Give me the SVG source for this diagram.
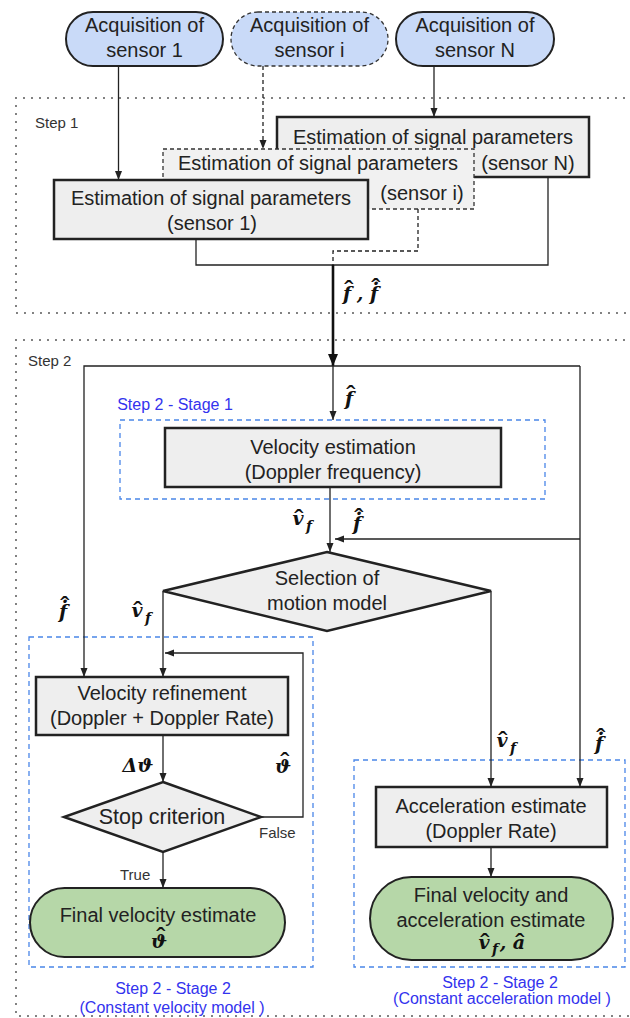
<svg xmlns="http://www.w3.org/2000/svg" width="630" height="1018" viewBox="0 0 630 1018">
<defs>
<marker id="arr" markerUnits="userSpaceOnUse" markerWidth="10" markerHeight="10" refX="9" refY="5" orient="auto"><path d="M0,1.5 L9,5 L0,8.5 z" fill="#222"/></marker>
<marker id="arrB" markerUnits="userSpaceOnUse" markerWidth="13" markerHeight="13" refX="12" refY="6.5" orient="auto"><path d="M0,1.5 L12,6.5 L0,11.5 z" fill="#111"/></marker>
</defs>
<style>
.t{font-family:"Liberation Sans",Arial,sans-serif;font-size:20px;fill:#222;text-anchor:middle}
.m{font-family:"DejaVu Serif",serif;font-weight:bold;font-style:italic;font-size:19px;fill:#111;text-anchor:middle}
.s{font-size:14px}
.h{font-family:"Liberation Sans",Arial,sans-serif;font-size:28px;font-weight:normal;font-style:normal}
.blue{font-family:"Liberation Sans",Arial,sans-serif;font-size:16px;fill:#3333ee;text-anchor:middle}
.small{font-family:"Liberation Sans",Arial,sans-serif;font-size:15px;fill:#333}
.pill{fill:#c9daf8;stroke:#222;stroke-width:2}
.pilld{fill:#c9daf8;stroke:#333;stroke-width:1.3;stroke-dasharray:4 3}
.box{fill:#eeeeee;stroke:#222;stroke-width:2.5}
.boxd{fill:#f1f1f1;stroke:#333;stroke-width:1.3;stroke-dasharray:4 3}
.green{fill:#b6d7a8;stroke:#222;stroke-width:2}
.dot{fill:none;stroke:#666;stroke-width:2.2;stroke-dasharray:0 8;stroke-linecap:round}
.bd{fill:none;stroke:#4a86e8;stroke-width:1.3;stroke-dasharray:5 4}
.c{fill:none;stroke:#222;stroke-width:1.3}
.cd{fill:none;stroke:#222;stroke-width:1.3;stroke-dasharray:4 3}
</style>

<g id="step1-frame">
<path class="dot" d="M640 98 H16 V313 H640"/>
<text class="small" x="35" y="128">Step 1</text>
</g>
<g id="step2-frame">
<path class="dot" d="M640 340 H16 V1016 H640"/>
<text class="small" x="28" y="366">Step 2</text>
</g>

<g id="stage1-frame">
<rect class="bd" x="120" y="420" width="425" height="79"/>
<text class="blue" x="175" y="410">Step 2 - Stage 1</text>
</g>
<g id="stage2-cv-frame">
<rect class="bd" x="29" y="637" width="284" height="330"/>
<text class="blue" x="173" y="994">Step 2 - Stage 2</text>
<text class="blue" x="172" y="1013">(Constant velocity model )</text>
</g>
<g id="stage2-ca-frame">
<rect class="bd" x="354" y="760" width="271" height="207"/>
<text class="blue" x="500" y="988">Step 2 - Stage 2</text>
<text class="blue" x="502" y="1004">(Constant acceleration model )</text>
</g>

<g id="acq1">
<rect class="pill" x="66" y="12" width="157" height="54" rx="27"/>
<text class="t" x="144.5" y="32">Acquisition of</text>
<text class="t" x="144.5" y="57">sensor 1</text>
</g>
<g id="acqi">
<rect class="pilld" x="231" y="12" width="157" height="54" rx="27"/>
<text class="t" x="309.5" y="32">Acquisition of</text>
<text class="t" x="309.5" y="57">sensor i</text>
</g>
<g id="acqN">
<rect class="pill" x="396" y="12" width="158" height="54" rx="27"/>
<text class="t" x="475" y="32">Acquisition of</text>
<text class="t" x="475" y="57">sensor N</text>
</g>

<g id="estN">
<rect class="box" x="277" y="117" width="312" height="60"/>
<text class="t" x="433" y="144">Estimation of signal parameters</text>
<text class="t" x="528" y="170">(sensor N)</text>
</g>
<g id="esti">
<rect class="boxd" x="163" y="149" width="311" height="60"/>
<text class="t" x="318" y="170">Estimation of signal parameters</text>
<text class="t" x="422" y="200">(sensor i)</text>
</g>
<g id="est1">
<rect class="box" x="54" y="180" width="314" height="59"/>
<text class="t" x="211" y="205">Estimation of signal parameters</text>
<text class="t" x="212" y="230">(sensor 1)</text>
</g>

<g id="velest">
<rect class="box" x="165" y="428" width="336" height="59"/>
<text class="t" x="333" y="454">Velocity estimation</text>
<text class="t" x="333" y="479">(Doppler frequency)</text>
</g>
<g id="selmodel">
<polygon class="box" points="327,552 491,591 327,631 163,591"/>
<text class="t" x="327" y="585">Selection of</text>
<text class="t" x="327" y="610">motion model</text>
</g>
<g id="velref">
<rect class="box" x="36" y="677" width="252" height="58"/>
<text class="t" x="162" y="700">Velocity refinement</text>
<text class="t" x="162" y="725">(Doppler + Doppler Rate)</text>
</g>
<g id="stop">
<polygon class="box" points="163,782 261,817 163,852 64,817"/>
<text class="t" x="162" y="824" style="font-size:21.5px">Stop criterion</text>
</g>
<g id="accest">
<rect class="box" x="376" y="787" width="231" height="60"/>
<text class="t" x="491" y="813">Acceleration estimate</text>
<text class="t" x="491" y="838">(Doppler Rate)</text>
</g>
<g id="finalvel">
<rect class="green" x="30" y="888" width="255" height="69" rx="34.5"/>
<text class="t" x="158" y="922">Final velocity estimate</text>
<text class="m"><tspan x="159" y="948">ϑ</tspan><tspan class="h" x="161" y="947">ˆ</tspan></text>
</g>
<g id="finalacc">
<rect class="green" x="370" y="877" width="243" height="83" rx="41.5"/>
<text class="t" x="491" y="902">Final velocity and</text>
<text class="t" x="491" y="927">acceleration estimate</text>
<text class="m"><tspan x="484" y="949">v</tspan><tspan class="s" x="495" y="954">f</tspan><tspan x="503" y="949">,</tspan><tspan x="519" y="949">a</tspan><tspan class="h" x="485" y="953">ˆ</tspan><tspan class="h" x="520" y="953">ˆ</tspan></text>
</g>

<g id="connectors">
<path class="c" d="M118.5 66 V180" marker-end="url(#arr)"/>
<path class="cd" d="M263 66 V149" marker-end="url(#arr)"/>
<path class="c" d="M434 66 V117" marker-end="url(#arr)"/>
<path class="c" d="M196 239 V265 H548 V177"/>
<path class="cd" d="M418 209 V251 H333 V265"/>
<path fill="none" stroke="#111" stroke-width="2.6" d="M333 265 V366" marker-end="url(#arrB)"/>
<path class="c" d="M333 366 V420" marker-end="url(#arr)"/>
<path class="c" d="M580 366 H84 V677" marker-end="url(#arr)"/>
<path class="c" d="M580 366 V787" marker-end="url(#arr)"/>
<path class="c" d="M580 539 H335" marker-end="url(#arr)"/>
<path class="c" d="M330 487 V552" marker-end="url(#arr)"/>
<path class="c" d="M163 591 V677" marker-end="url(#arr)"/>
<path class="c" d="M491 591 V787" marker-end="url(#arr)"/>
<path class="c" d="M163 735 V782" marker-end="url(#arr)"/>
<path class="c" d="M261 817 H303 V653 H165" marker-end="url(#arr)"/>
<path class="c" d="M163 852 V888" marker-end="url(#arr)"/>
<path class="c" d="M491 847 V877" marker-end="url(#arr)"/>
</g>

<g id="labels">
<text class="m"><tspan x="347" y="300">f</tspan><tspan x="360" y="300">,</tspan><tspan x="374" y="300">f</tspan><tspan class="h" x="349" y="300">ˆ</tspan><tspan class="h" x="376" y="297.5">ˆ</tspan><tspan x="376" y="284.5">.</tspan></text>

<text class="m"><tspan x="349" y="405">f</tspan><tspan class="h" x="351" y="405">ˆ</tspan></text>

<text class="m"><tspan x="298" y="525">v</tspan><tspan class="s" x="309" y="531">f</tspan><tspan class="h" x="299" y="529">ˆ</tspan></text>

<text class="m"><tspan x="357" y="530">f</tspan><tspan class="h" x="359" y="527.5">ˆ</tspan><tspan x="359" y="514.5">.</tspan></text>

<text class="m"><tspan x="63" y="618">f</tspan><tspan class="h" x="65" y="615.5">ˆ</tspan><tspan x="65" y="602.5">.</tspan></text>

<text class="m"><tspan x="137" y="617">v</tspan><tspan class="s" x="148" y="623">f</tspan><tspan class="h" x="138" y="621">ˆ</tspan></text>

<text class="m" x="138" y="772">Δϑ</text>

<text class="m"><tspan x="283" y="773">ϑ</tspan><tspan class="h" x="285" y="772">ˆ</tspan></text>

<text class="m"><tspan x="502" y="747">v</tspan><tspan class="s" x="513" y="753">f</tspan><tspan class="h" x="503" y="751">ˆ</tspan></text>

<text class="m"><tspan x="599" y="750">f</tspan><tspan class="h" x="601" y="747.5">ˆ</tspan><tspan x="601" y="734.5">.</tspan></text>

<text class="small" x="259" y="838">False</text>
<text class="small" x="120" y="880">True</text>
</g>
</svg>
